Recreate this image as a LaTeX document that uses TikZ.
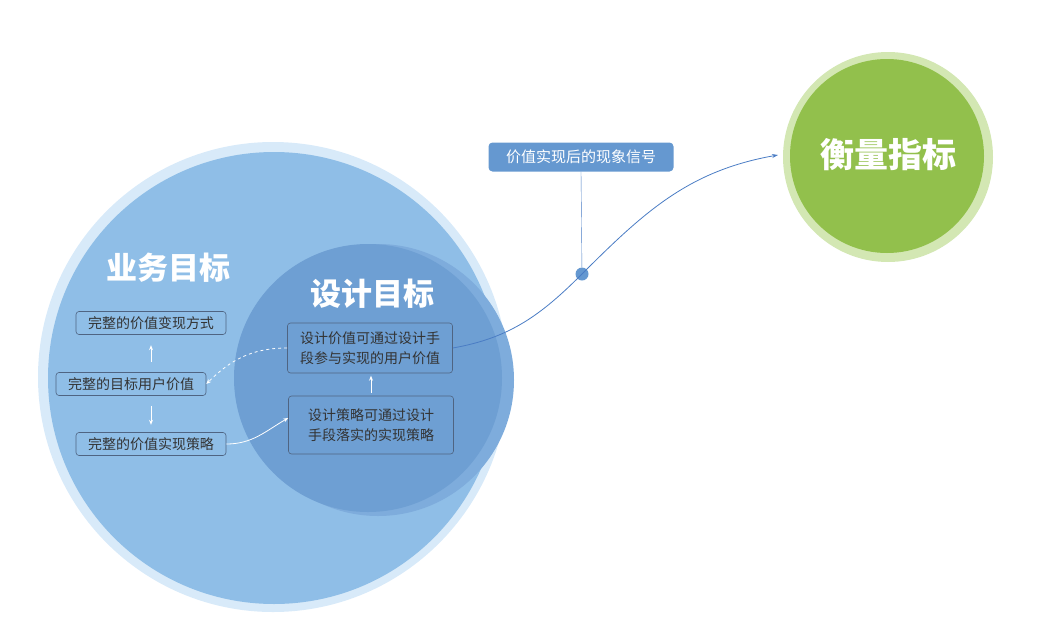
\documentclass[tikz,border=0pt]{standalone}
\usepackage{fontspec}
\usetikzlibrary{positioning,arrows.meta}
\newfontfamily\cjk{Noto Sans CJK SC}
\definecolor{paleblue}{HTML}{D8EAF9}
\definecolor{midblue}{HTML}{8FBEE7}
\definecolor{deepblue}{HTML}{6E9FD3}
\definecolor{lightdeep}{HTML}{7EACDC}
\definecolor{linkblue}{HTML}{4A7CC4}
\definecolor{tagblue}{HTML}{6598D0}
\definecolor{leaf}{HTML}{92C04C}
\definecolor{paleleaf}{HTML}{D3E7B3}
\definecolor{boxline}{HTML}{4F6482}
\definecolor{boxtext}{HTML}{333333}

\begin{document}
\begin{tikzpicture}[x=1pt,y=-1pt,
  every node/.style={font=\cjk,align=center},
  title/.style={text=white,font=\cjk\bfseries\fontsize{31}{34}\selectfont},
  goalbox/.style={draw=boxline,line width=0.6pt,rounded corners=3pt,text=boxtext,font=\cjk\fontsize{14}{20}\selectfont,inner sep=2pt},
  pairbox/.style={goalbox,minimum width=165pt,minimum height=50pt},
  tag/.style={fill=tagblue,rounded corners=4pt,text=white,font=\cjk\fontsize{15}{17}\selectfont,minimum width=185pt,minimum height=29pt},
  flow/.style={-{Stealth[length=5pt,width=4pt]},white,thick},
  link/.style={-{Stealth[length=6pt,width=4pt]},draw=linkblue,line width=0.8pt}
]
\useasboundingbox (0,0) rectangle (1037,619);
% circles
\fill[paleblue] (273,377) circle (235);
\fill[midblue] (274,378) circle (226);
\fill[lightdeep] (378,380) circle (136);
\fill[deepblue] (368,378) circle (134);
\fill[paleleaf] (888,157) circle (105);
\fill[leaf] (887,156) circle (97);
% titles
\node[title] (biz) at (168,268) {业务目标};
\node[title] (dsn) at (372,294) {设计目标};
\node[title,font=\cjk\bfseries\fontsize{34}{38}\selectfont] (kpi) at (888,155) {衡量指标};
% business goals
\node[goalbox,minimum width=150pt,minimum height=23pt] (mode) at (151,323) {完整的价值变现方式};
\node[goalbox,minimum width=150pt,minimum height=23pt] (user) at (131,384) {完整的目标用户价值};
\node[goalbox,minimum width=150pt,minimum height=23pt] (plan) at (151,444) {完整的价值实现策略};
% design goals
\node[pairbox] (dval) at (370,348) {设计价值可通过设计手\\段参与实现的用户价值};
\node[pairbox,minimum height=58pt] (dstr) at (371,425) {设计策略可通过设计\\手段落实的实现策略};
\draw[flow] (user.north -| mode) ++(0,-10) -- ++(0,-17);
\draw[flow] (user.south -| plan) ++(0,10) -- ++(0,19);
\draw[flow] (dstr.north) ++(0,-3) -- ++(0,-17);
\draw[flow,dashed] (dval.west) to[out=180,in=45] (user.east);
\draw[flow] (plan.east) to[out=0,in=210] (dstr.west |- 0,418);
% signal
\node[circle,fill=tagblue,inner sep=0pt,minimum size=13pt] (dot) at (582,274) {};
\node[tag] (sig) at (581,157) {价值实现后的现象信号};
\draw[linkblue] (sig.south) -- (dot);
\draw[link] (dval.east) to[out=10,in=225] (dot.center) to[out=45,in=190] (kpi.west -| 778,155);
\end{tikzpicture}
\end{document}
